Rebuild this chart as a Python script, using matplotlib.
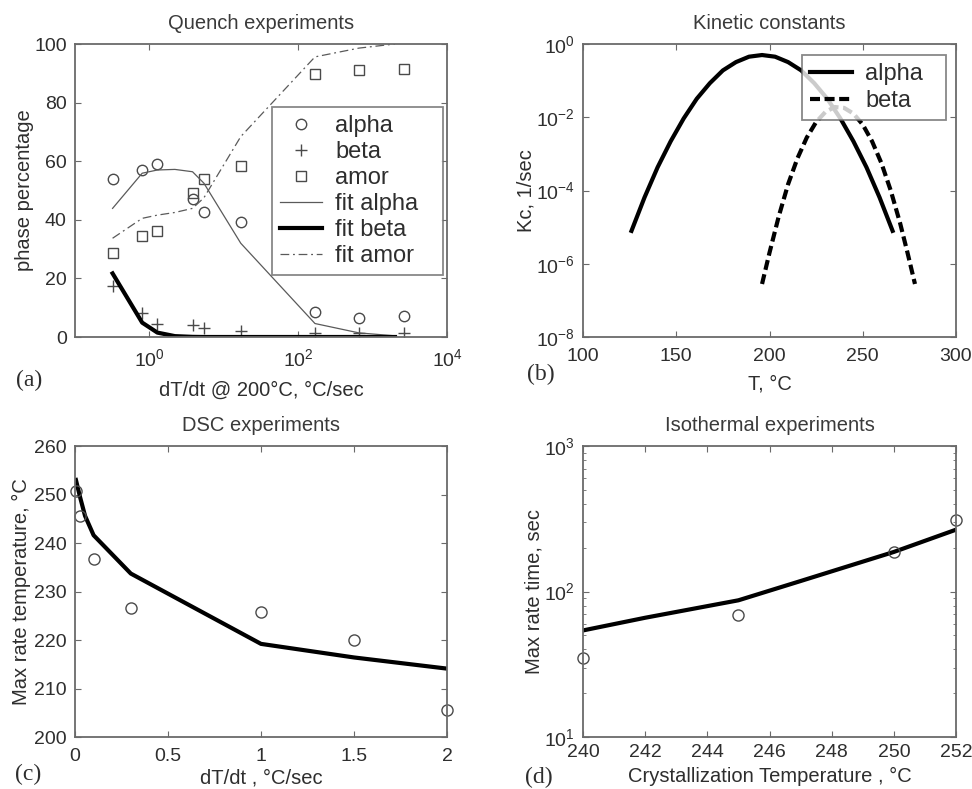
import numpy as np
import matplotlib

matplotlib.use("Agg")
import matplotlib.pyplot as plt
from matplotlib.ticker import FixedLocator, NullLocator, LogFormatterMathtext, LogLocator

plt.rcParams["font.family"] = ["Liberation Sans", "DejaVu Sans"]
plt.rcParams["mathtext.fontset"] = "custom"
plt.rcParams["mathtext.rm"] = "Liberation Sans"
plt.rcParams["axes.unicode_minus"] = False

# quench experiments: phase fractions vs cooling rate
quench_rate = [0.32, 0.8, 1.28, 3.8, 5.4, 16.9, 168, 656, 2630]
alpha_pct = [53.9, 56.9, 59.0, 47.1, 42.8, 39.1, 8.6, 6.5, 7.1]
beta_pct = [17.4, 8.3, 4.4, 4.2, 3.0, 2.2, 1.5, 1.5, 1.4]
amor_pct = [28.6, 34.6, 36.3, 49.0, 53.8, 58.5, 89.9, 91.0, 91.6]

fit_rate = [0.32, 0.8, 1.28, 2.2, 3.8, 5.4, 16.9, 168, 656, 2000]
fit_alpha = [43.9, 55.9, 57.0, 57.2, 56.4, 52.5, 32.0, 4.6, 1.4, 0.4]
fit_beta = [21.7, 4.9, 1.5, 0.3, 0.05, 0.0, 0.0, 0.0, 0.0, 0.0]
fit_amor = [33.7, 40.5, 41.6, 42.5, 43.9, 47.5, 68.4, 95.6, 98.6, 100.0]

# kinetic constants
T_alpha = [126, 133, 140, 147, 154, 161, 168, 175, 182, 189, 196,
           203, 210, 217, 224, 231, 238, 245, 252, 259, 266]
kc_alpha = [7.9e-6, 6.5e-5, 4.3e-4, 2.2e-3, 9.3e-3, 3.2e-2, 8.5e-2, 0.19, 0.32, 0.45, 0.50,
            0.45, 0.32, 0.19, 8.5e-2, 3.2e-2, 9.3e-3, 2.2e-3, 4.3e-4, 6.5e-5, 7.9e-6]
T_beta = [196, 200, 205, 210, 215, 220, 225, 230, 235, 240,
          245, 250, 255, 260, 265, 270, 274, 278]
kc_beta = [2.8e-7, 2.0e-6, 2.0e-5, 1.5e-4, 7.6e-4, 2.8e-3, 7.4e-3, 1.4e-2, 1.9e-2, 1.8e-2,
           1.26e-2, 6.3e-3, 2.2e-3, 5.6e-4, 1.0e-4, 1.3e-5, 2.0e-6, 2.8e-7]

# DSC experiments
dsc_rate = [0.008, 0.027, 0.1, 0.3, 1.0, 1.5, 2.0]
dsc_temp = [250.7, 245.5, 236.6, 226.7, 225.8, 219.9, 205.5]
dsc_fit_rate = [0.005, 0.027, 0.054, 0.1, 0.3, 1.0, 1.5, 2.0]
dsc_fit_temp = [253.0, 249.5, 245.6, 241.6, 233.7, 219.2, 216.4, 214.1]

# isothermal experiments
iso_temp = [240, 245, 250, 252]
iso_time = [35.0, 68.6, 188.0, 308.0]
iso_fit_temp = [240, 242, 245, 247, 250, 251, 252]
iso_fit_time = [54, 66, 87, 118, 187, 223, 266]

AX_COL = "#6a6a6a"
TXT_COL = "#2e2e2e"
MK_COL = "#4a4a4a"


def style_axes(ax, xpad):
    for sp in ax.spines.values():
        sp.set_color(AX_COL)
        sp.set_linewidth(1.3)
    ax.tick_params(which="both", direction="in", top=True, right=True,
                   colors=AX_COL, labelcolor=TXT_COL, labelsize=14, pad=6)
    ax.tick_params(axis="x", pad=xpad)
    ax.tick_params(which="major", length=4)
    ax.tick_params(which="minor", length=2)


def set_text(ax, title, xlabel, ylabel, xlpad, ylpad):
    ax.set_title(title, fontsize=14.5, color="#3a3a3a", pad=11)
    ax.set_xlabel(xlabel, fontsize=14.5, color=TXT_COL, labelpad=xlpad)
    ax.set_ylabel(ylabel, fontsize=14.5, color=TXT_COL, labelpad=ylpad)


def boxed_legend(ax, bbox, spacing):
    leg = ax.legend(loc="upper left", bbox_to_anchor=bbox, mode="expand", fontsize=17,
                    frameon=True, fancybox=False, handlelength=1.8, handletextpad=0.55,
                    borderpad=0.33, labelspacing=spacing, borderaxespad=0.0, numpoints=1)
    leg.get_frame().set_edgecolor(AX_COL)
    leg.get_frame().set_linewidth(1.3)
    for t in leg.get_texts():
        t.set_color(TXT_COL)
    return leg


fig = plt.figure(figsize=(9.72, 7.89), dpi=100)
W, H = 972.0, 789.0

ax_a = fig.add_axes([75 / W, 1 - 337 / H, 372 / W, 293 / H])
ax_b = fig.add_axes([583 / W, 1 - 337 / H, 373 / W, 293 / H])
ax_c = fig.add_axes([75 / W, 1 - 737 / H, 372 / W, 291 / H])
ax_d = fig.add_axes([583 / W, 1 - 737 / H, 373 / W, 291 / H])

# (a) quench experiments
ax = ax_a
ax.set_xscale("log")
ax.plot(quench_rate, alpha_pct, "o", ms=7.5, mfc="none", mec=MK_COL, mew=1.0, label="alpha")
ax.plot(quench_rate, beta_pct, "+", ms=9, mec=MK_COL, mew=1.0, label="beta")
ax.plot(quench_rate, amor_pct, "s", ms=7, mfc="none", mec=MK_COL, mew=1.0, label="amor")
ax.plot(fit_rate, fit_alpha, "-", color="#5a5a5a", lw=0.9, label="fit alpha")
ax.plot(fit_rate, fit_beta, "-", color="black", lw=3.0, label="fit beta")
ax.plot(fit_rate, fit_amor, color="#5a5a5a", lw=0.9, dashes=[7, 3, 1.5, 3], label="fit amor")
ax.set_xlim(0.1, 1e4)
ax.set_ylim(0, 100)
ax.xaxis.set_major_locator(FixedLocator([1, 100, 1e4]))
ax.xaxis.set_major_formatter(LogFormatterMathtext())
ax.xaxis.set_minor_locator(NullLocator())
ax.set_yticks([0, 20, 40, 60, 80, 100])
style_axes(ax, 8)
set_text(ax, "Quench experiments", "dT/dt @ 200°C, °C/sec", "phase percentage", 8, 0)
boxed_legend(ax, (0.530, 0.225, 0.46, 0.56), 0.17)

# (b) kinetic constants
ax = ax_b
ax.set_yscale("log")
ax.plot(T_alpha, kc_alpha, "-", color="black", lw=3.0, label="alpha")
ax.plot(T_beta, kc_beta, color="black", lw=3.0, dashes=[2.4, 1.1], label="beta")
ax.set_xlim(100, 300)
ax.set_ylim(1e-8, 1e0)
ax.set_xticks([100, 150, 200, 250, 300])
ax.yaxis.set_major_locator(FixedLocator([1e-8, 1e-6, 1e-4, 1e-2, 1e0]))
ax.yaxis.set_major_formatter(LogFormatterMathtext())
ax.yaxis.set_minor_locator(NullLocator())
style_axes(ax, 8)
set_text(ax, "Kinetic constants", "T, °C", "Kc, 1/sec", 6.5, 0)
boxed_legend(ax, (0.587, 0.761, 0.386, 0.201), 0.23)

# (c) DSC experiments
ax = ax_c
ax.plot(dsc_fit_rate, dsc_fit_temp, "-", color="black", lw=3.0)
ax.plot(dsc_rate, dsc_temp, "o", ms=8, mfc="none", mec=MK_COL, mew=1.0, clip_on=False)
ax.set_xlim(0, 2)
ax.set_ylim(200, 260)
ax.set_xticks([0, 0.5, 1, 1.5, 2])
ax.set_xticklabels(["0", "0.5", "1", "1.5", "2"])
ax.set_yticks([200, 210, 220, 230, 240, 250, 260])
style_axes(ax, 8)
set_text(ax, "DSC experiments", "dT/dt , °C/sec", "Max rate temperature, °C", 2.5, 2)

# (d) isothermal experiments
ax = ax_d
ax.set_yscale("log")
ax.plot(iso_fit_temp, iso_fit_time, "-", color="black", lw=3.0)
ax.plot(iso_temp, iso_time, "o", ms=8, mfc="none", mec=MK_COL, mew=1.0, clip_on=False)
ax.set_xlim(240, 252)
ax.set_ylim(10, 1000)
ax.set_xticks([240, 242, 244, 246, 248, 250, 252])
ax.yaxis.set_major_locator(FixedLocator([10, 100, 1000]))
ax.yaxis.set_major_formatter(LogFormatterMathtext())
ax.yaxis.set_minor_locator(LogLocator(base=10, subs=np.arange(2, 10)))
style_axes(ax, 5)
set_text(ax, "Isothermal experiments", "Crystallization Temperature , °C",
         "Max rate time, sec", 4.5, 0)

# panel letters
for label, x, y in [("(a)", 16, 380), ("(b)", 527, 374), ("(c)", 15, 774), ("(d)", 525, 777)]:
    fig.text(x / W, 1 - y / H, label, family="Liberation Serif", fontsize=17,
             color=TXT_COL, ha="left", va="center")

fig.savefig("out.png", dpi=100)
plt.close(fig)
